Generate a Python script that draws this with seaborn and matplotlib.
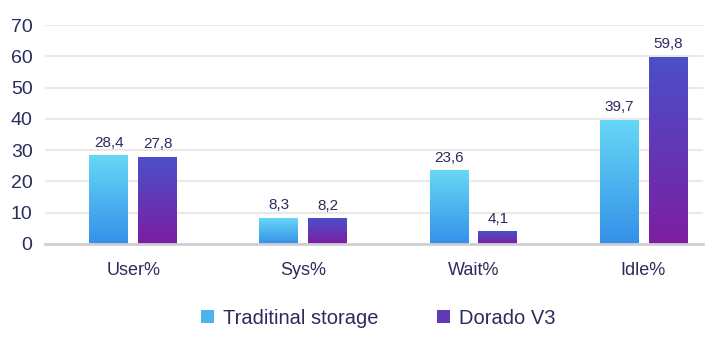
import numpy as np
import pandas as pd
import matplotlib
matplotlib.use("Agg")
import matplotlib.pyplot as plt
import seaborn as sns
from matplotlib.colors import LinearSegmentedColormap
from matplotlib.patches import Patch

categories = ["User%", "Sys%", "Wait%", "Idle%"]
series = ["Traditinal storage", "Dorado V3"]
traditional = [28.4, 8.3, 23.6, 39.7]
dorado = [27.8, 8.2, 4.1, 59.8]
yticks = [0, 10, 20, 30, 40, 50, 60, 70]

df = pd.DataFrame({
    "cat": categories * 2,
    "series": [series[0]] * 4 + [series[1]] * 4,
    "val": traditional + dorado,
})

grad = {
    series[0]: ("#66d8f6", "#3590e8"),
    series[1]: ("#4a50c8", "#7c1ea2"),
}
mid = {series[0]: "#4bb4ef", series[1]: "#6238b6"}
text_col = "#2b2c5c"

sns.set_theme(style="white")
plt.rcParams["font.family"] = ["Liberation Sans", "DejaVu Sans"]

fig = plt.figure(figsize=(7.23, 3.39), dpi=100)
ax = fig.add_axes([45 / 723, 1 - 244 / 339, (703 - 45) / 723, (244 - 25) / 339])

sns.barplot(data=df, x="cat", y="val", hue="series", palette=mid,
            width=0.576, gap=0.205, legend=False, ax=ax, zorder=3)

ax.set_ylim(0, 70)
ax.set_xlim(-0.52, 3.35)
ax.set_yticks(yticks)
ax.yaxis.grid(True, color="#e9e9ec", linewidth=1.5, zorder=0)
ax.set_axisbelow(True)
for s in ["top", "right", "left"]:
    ax.spines[s].set_visible(False)
ax.spines["bottom"].set_color("#cfcfd3")
ax.spines["bottom"].set_linewidth(2)
ax.spines["bottom"].set_zorder(5)
ax.set_xlabel("")
ax.set_ylabel("")
ax.tick_params(axis="y", length=0, labelsize=14, labelcolor=text_col, pad=9)
ax.tick_params(axis="x", length=0, labelsize=13, labelcolor=text_col, pad=13)

for container, s in zip(ax.containers, series):
    c_top, c_bot = grad[s]
    cmap = LinearSegmentedColormap.from_list(s, [c_bot, c_top])
    for patch in container.patches:
        x0, y0 = patch.get_x(), patch.get_y()
        w, h = patch.get_width(), patch.get_height()
        g = np.linspace(0, 1, 256).reshape(-1, 1)
        im = ax.imshow(g, extent=[x0, x0 + w, y0, y0 + h], origin="lower",
                       cmap=cmap, aspect="auto", zorder=4)
        im.set_clip_path(patch)
        patch.set_edgecolor("none")
    labels = [f"{p.get_height():.1f}".replace(".", ",") for p in container.patches]
    ax.bar_label(container, labels=labels, padding=4, fontsize=11,
                 color=text_col, zorder=6)

ax.set_xlim(-0.52, 3.35)
ax.set_ylim(0, 70)

handles = [Patch(facecolor=mid[s], edgecolor="none", label=s) for s in series]
leg = fig.legend(handles=handles, loc="center", ncol=2, frameon=False,
                 bbox_to_anchor=(378 / 723, 1 - 318 / 339),
                 handlelength=0.65, handleheight=0.65, handletextpad=0.45,
                 columnspacing=2.9, fontsize=14.5)
for t in leg.get_texts():
    t.set_color(text_col)

fig.savefig("out.png", dpi=100, facecolor="white")
